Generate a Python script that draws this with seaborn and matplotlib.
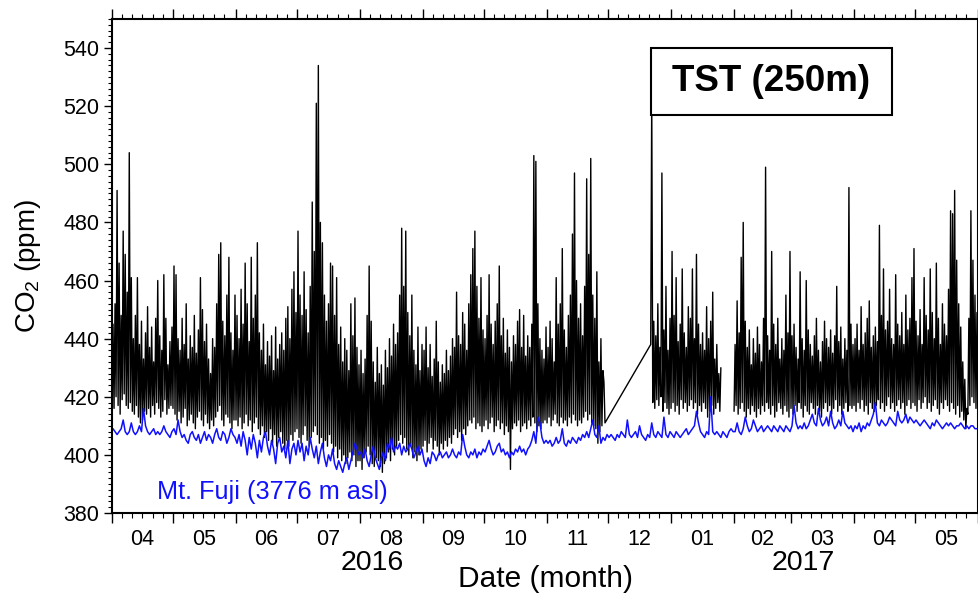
import numpy as np
import pandas as pd
import seaborn as sns
import matplotlib.pyplot as plt
import matplotlib.dates as mdates
from matplotlib.ticker import MultipleLocator, NullFormatter
from matplotlib.patches import Rectangle

# TST (250m) CO2, two readings per day (00h / 12h), ppm
tst_am_2016_04 = [418, 416, 420, 417, 414, 419, 421, 417, 416, 418, 415, 414, 417, 413, 411,
                  412, 415, 414, 416, 413, 417, 414, 418, 416, 413, 415, 419, 414, 416, 417]
tst_pm_2016_04 = [445, 452, 491, 466, 448, 477, 469, 456, 504, 461, 440, 448, 461, 438, 446,
                  433, 442, 451, 437, 444, 432, 447, 460, 441, 436, 462, 447, 431, 439, 444]
tst_am_2016_05 = [416, 414, 412, 415, 411, 413, 416, 410, 412, 414, 411, 409, 413, 415, 412, 410,
                  414, 411, 409, 412, 410, 413, 415, 417, 412, 410, 414, 413, 411, 409, 412]
tst_pm_2016_05 = [465, 462, 440, 436, 447, 438, 452, 433, 441, 437, 448, 435, 443, 461, 450, 439,
                  445, 433, 428, 440, 437, 452, 469, 473, 446, 441, 455, 468, 442, 436, 455]
tst_am_2016_06 = [412, 410, 413, 409, 411, 414, 410, 412, 408, 411, 413, 409, 407, 410, 406,
                  408, 405, 409, 404, 407, 403, 406, 408, 404, 402, 405, 403, 407, 405, 408]
tst_pm_2016_06 = [448, 440, 457, 445, 466, 452, 439, 468, 447, 455, 473, 442, 436, 445, 431,
                  439, 434, 441, 429, 444, 433, 438, 442, 436, 447, 451, 440, 457, 463, 449]
tst_am_2016_07 = [409, 406, 404, 407, 410, 405, 403, 406, 408, 410, 407, 404, 406, 402, 405, 403,
                  407, 404, 401, 403, 399, 402, 398, 400, 397, 399, 401, 398, 400, 396, 398]
tst_pm_2016_07 = [477, 455, 448, 463, 450, 442, 458, 487, 470, 521, 534, 480, 473, 455, 446, 452,
                  466, 465, 448, 461, 438, 444, 432, 440, 436, 429, 452, 441, 454, 437, 431]
tst_am_2016_08 = [398, 395, 399, 401, 403, 400, 397, 396, 399, 398, 396, 394, 397, 399, 401, 398,
                  402, 400, 403, 405, 407, 404, 406, 402, 400, 403, 399, 401, 398, 400, 402]
tst_pm_2016_08 = [436, 428, 433, 448, 465, 446, 432, 425, 437, 428, 431, 424, 436, 430, 440, 434,
                  445, 438, 442, 455, 478, 458, 477, 449, 441, 455, 436, 431, 444, 429, 438]
tst_am_2016_09 = [403, 405, 401, 404, 406, 402, 405, 403, 400, 404, 402, 405, 403, 406, 404,
                  407, 409, 406, 408, 405, 409, 407, 410, 412, 411, 413, 409, 411, 410, 408]
tst_pm_2016_09 = [436, 444, 430, 438, 427, 433, 446, 432, 425, 431, 428, 436, 429, 434, 440,
                  437, 456, 441, 438, 449, 445, 436, 452, 462, 471, 477, 458, 447, 461, 443]
tst_am_2016_10 = [410, 412, 409, 411, 413, 408, 410, 412, 409, 411, 407, 410, 408, 395, 409, 411,
                  410, 412, 408, 410, 411, 409, 412, 410, 413, 411, 408, 410, 409, 411, 412]
tst_pm_2016_10 = [440, 448, 462, 445, 438, 446, 452, 465, 441, 447, 435, 443, 437, 432, 441, 438,
                  446, 450, 437, 448, 434, 441, 437, 445, 503, 501, 452, 440, 436, 433, 444]
# Nov 1-29, then no data until Dec 22
tst_am_2016_11 = [411, 413, 410, 412, 414, 411, 410, 413, 411, 412, 410, 413, 411, 414, 412,
                  410, 412, 411, 413, 415, 412, 414, 411, 410, 409, 404, 408, 410, 425]
tst_pm_2016_11 = [437, 446, 440, 432, 461, 445, 452, 471, 443, 437, 448, 455, 476, 497, 460,
                  447, 452, 441, 458, 495, 469, 502, 455, 447, 463, 432, 440, 429, 411]
# Dec 22-31
tst_am_2016_12 = [438, 418, 416, 419, 417, 420, 415, 418, 416, 414]
tst_pm_2016_12 = [524, 446, 441, 452, 437, 497, 443, 458, 436, 447]
# Jan 1-25, then no data until Feb 1
tst_am_2017_01 = [416, 418, 415, 417, 414, 419, 416, 418, 415, 417, 419, 416, 418, 414, 417,
                  415, 418, 416, 413, 415, 417, 414, 416, 418, 415]
tst_pm_2017_01 = [470, 448, 461, 439, 445, 464, 442, 437, 451, 447, 464, 440, 469, 445, 438,
                  442, 436, 451, 440, 446, 456, 433, 438, 428, 430]
tst_am_2017_02 = [415, 417, 414, 416, 418, 415, 413, 416, 414, 417, 415, 413, 416, 414,
                  417, 415, 418, 416, 414, 417, 413, 415, 418, 416, 414, 417, 415, 413]
tst_pm_2017_02 = [438, 453, 442, 468, 480, 446, 437, 443, 431, 440, 435, 444, 438, 432,
                  447, 499, 441, 436, 470, 445, 438, 447, 433, 440, 436, 455, 442, 470]
tst_am_2017_03 = [416, 414, 417, 415, 418, 416, 413, 417, 415, 414, 418, 416, 414, 417, 415, 413,
                  416, 418, 415, 417, 414, 416, 419, 415, 417, 414, 416, 418, 415, 417, 416]
tst_pm_2017_03 = [441, 445, 437, 433, 463, 440, 436, 460, 443, 438, 434, 441, 447, 436, 432, 439,
                  446, 440, 437, 443, 435, 441, 458, 439, 444, 433, 440, 436, 492, 445, 438]
tst_am_2017_04 = [417, 415, 418, 416, 419, 415, 417, 414, 418, 416, 415, 417, 419, 416, 418,
                  415, 417, 420, 416, 418, 415, 417, 419, 416, 418, 414, 417, 419, 416, 418]
tst_pm_2017_04 = [440, 445, 436, 451, 438, 442, 447, 453, 437, 441, 444, 439, 479, 448, 464,
                  443, 446, 457, 440, 438, 462, 445, 441, 449, 438, 455, 443, 447, 461, 471]
tst_am_2017_05 = [417, 415, 419, 416, 418, 420, 416, 418, 415, 417, 419, 416, 414, 418, 416, 419,
                  417, 415, 418, 416, 414, 417, 413, 415, 412, 409, 414, 417, 420, 418, 416]
tst_pm_2017_05 = [446, 441, 450, 438, 461, 448, 443, 464, 449, 440, 466, 447, 438, 452, 445, 441,
                  457, 484, 483, 491, 467, 452, 444, 432, 426, 416, 447, 484, 467, 455, 449]

# Mt. Fuji daily CO2, ppm
fuji_2016_04 = [409, 408, 407, 408, 409, 412, 408, 407, 408, 411, 408, 407, 408, 410, 408,
                416, 410, 408, 407, 408, 409, 407, 408, 407, 408, 410, 408, 407, 406, 408]
fuji_2016_05 = [409, 407, 412, 408, 406, 407, 405, 404, 407, 408, 406, 405, 407, 404, 406, 408,
                405, 407, 406, 404, 407, 409, 406, 405, 408, 407, 404, 406, 409, 407, 406]
fuji_2016_06 = [404, 407, 403, 408, 405, 400, 406, 402, 407, 404, 399, 405, 401, 406, 408,
                403, 400, 405, 402, 397, 404, 406, 401, 403, 399, 405, 397, 402, 404, 400]
fuji_2016_07 = [405, 401, 404, 398, 403, 400, 406, 402, 399, 403, 397, 401, 404, 399, 396, 400,
                398, 402, 397, 395, 398, 396, 394, 397, 399, 395, 398, 401, 404, 402, 400]
fuji_2016_08 = [401, 399, 402, 398, 396, 400, 403, 399, 397, 395, 399, 401, 398, 404, 402, 406,
                401, 403, 402, 404, 400, 403, 401, 402, 404, 402, 399, 401, 403, 400, 402]
fuji_2016_09 = [398, 396, 399, 397, 401, 400, 398, 400, 401, 399, 400, 401, 399, 400, 402,
                400, 399, 401, 400, 407, 403, 400, 399, 401, 400, 402, 399, 401, 400, 402]
fuji_2016_10 = [401, 403, 405, 402, 400, 401, 403, 404, 401, 402, 400, 401, 399, 401, 400, 402,
                401, 403, 401, 402, 400, 402, 403, 405, 408, 404, 413, 411, 406, 404, 405]
fuji_2016_11 = [404, 405, 403, 404, 406, 404, 405, 409, 404, 403, 405, 404, 406, 405, 404,
                406, 405, 407, 406, 408, 406, 409, 412, 407, 406, 410, 404, 406, 405, 407]
fuji_2016_12 = [406, 407, 406, 405, 407, 406, 408, 407, 406, 412, 407, 406, 407, 408, 406, 410,
                407, 406, 405, 407, 406, 411, 407, 406, 408, 407, 406, 413, 407, 406, 408]
fuji_2017_01 = [407, 406, 408, 407, 406, 407, 408, 409, 407, 408, 409, 410, 415, 411, 408, 407,
                406, 408, 407, 420, 408, 407, 408, 407, 406, 408, 407, 406, 408, 409, 408]
fuji_2017_02 = [408, 411, 408, 407, 409, 413, 410, 408, 409, 412, 410, 408, 409, 410,
                408, 409, 410, 409, 408, 410, 409, 408, 410, 409, 408, 410, 409, 408]
fuji_2017_03 = [410, 417, 411, 409, 410, 409, 411, 409, 410, 412, 414, 411, 410, 416, 412, 410,
                411, 413, 410, 415, 411, 409, 410, 412, 410, 415, 411, 410, 409, 410, 408]
fuji_2017_04 = [410, 409, 411, 408, 410, 409, 411, 410, 412, 414, 418, 411, 410, 412, 411,
                410, 411, 413, 412, 411, 410, 415, 412, 411, 412, 414, 411, 413, 412, 411]
fuji_2017_05 = [412, 411, 410, 411, 412, 411, 410, 409, 411, 410, 412, 411, 410, 409, 410, 411,
                410, 411, 410, 409, 410, 410, 411, 410, 409, 410, 409, 410, 410, 409, 409]

month_labels = ['04', '05', '06', '07', '08', '09', '10', '11', '12',
                '01', '02', '03', '04', '05']


def half_daily(start, am, pm):
    days = pd.date_range(start, periods=len(am), freq='D')
    a = pd.DataFrame({'time': days, 'co2': am})
    b = pd.DataFrame({'time': days + pd.Timedelta(hours=12), 'co2': pm})
    return pd.concat([a, b])


seg1 = pd.concat([
    half_daily('2016-04-01', tst_am_2016_04, tst_pm_2016_04),
    half_daily('2016-05-01', tst_am_2016_05, tst_pm_2016_05),
    half_daily('2016-06-01', tst_am_2016_06, tst_pm_2016_06),
    half_daily('2016-07-01', tst_am_2016_07, tst_pm_2016_07),
    half_daily('2016-08-01', tst_am_2016_08, tst_pm_2016_08),
    half_daily('2016-09-01', tst_am_2016_09, tst_pm_2016_09),
    half_daily('2016-10-01', tst_am_2016_10, tst_pm_2016_10),
    half_daily('2016-11-01', tst_am_2016_11, tst_pm_2016_11),
    half_daily('2016-12-22', tst_am_2016_12, tst_pm_2016_12),
    half_daily('2017-01-01', tst_am_2017_01, tst_pm_2017_01),
]).sort_values('time')
seg2 = pd.concat([
    half_daily('2017-02-01', tst_am_2017_02, tst_pm_2017_02),
    half_daily('2017-03-01', tst_am_2017_03, tst_pm_2017_03),
    half_daily('2017-04-01', tst_am_2017_04, tst_pm_2017_04),
    half_daily('2017-05-01', tst_am_2017_05, tst_pm_2017_05),
]).sort_values('time')

fuji_vals = (fuji_2016_04 + fuji_2016_05 + fuji_2016_06 + fuji_2016_07 + fuji_2016_08
             + fuji_2016_09 + fuji_2016_10 + fuji_2016_11 + fuji_2016_12 + fuji_2017_01
             + fuji_2017_02 + fuji_2017_03 + fuji_2017_04 + fuji_2017_05)
fuji = pd.DataFrame({
    'time': pd.date_range('2016-04-01 12:00', periods=len(fuji_vals), freq='D'),
    'co2': fuji_vals,
})

sns.set_style('ticks')
plt.rcParams['font.family'] = ['Liberation Sans', 'DejaVu Sans']
plt.rcParams['mathtext.fontset'] = 'custom'
plt.rcParams['mathtext.rm'] = 'Liberation Sans'
plt.rcParams['mathtext.it'] = 'Liberation Sans:italic'
plt.rcParams['text.color'] = 'black'
plt.rcParams['axes.labelcolor'] = 'black'
plt.rcParams['xtick.color'] = 'black'
plt.rcParams['ytick.color'] = 'black'

fig = plt.figure(figsize=(9.79, 5.95), dpi=100)
ax = fig.add_axes([0.1144, 0.1378, 0.8846, 0.8303])

sns.lineplot(data=seg1, x='time', y='co2', color='black', lw=1.0, estimator=None, sort=False, ax=ax)
sns.lineplot(data=seg2, x='time', y='co2', color='black', lw=1.0, estimator=None, sort=False, ax=ax)
sns.lineplot(data=fuji, x='time', y='co2', color='#1010ff', lw=1.1, estimator=None, sort=False, ax=ax)

ax.set_xlim(pd.Timestamp('2016-04-01'), pd.Timestamp('2017-06-01'))
ax.set_ylim(380, 550)

ax.xaxis.set_major_locator(mdates.MonthLocator())
ax.xaxis.set_minor_locator(mdates.DayLocator(bymonthday=[6, 11, 16, 21, 26]))
ax.xaxis.set_major_formatter(NullFormatter())
ax.yaxis.set_major_locator(MultipleLocator(20))
ax.yaxis.set_minor_locator(MultipleLocator(2))

ax.tick_params(axis='x', which='both', top=True, bottom=True, direction='out', color='black')
ax.tick_params(axis='y', which='both', left=True, right=True, direction='out', color='black')
ax.tick_params(axis='x', which='major', length=7, width=1)
ax.tick_params(axis='x', which='minor', length=3.6, width=0.8)
ax.tick_params(axis='y', which='major', length=6, width=1, pad=3, labelsize=15.5,
               labelcolor='black')
ax.tick_params(axis='y', which='minor', length=3.2, width=0.8)
for sp in ax.spines.values():
    sp.set_linewidth(1.5)
    sp.set_color('black')

# month labels centred in each month
starts = pd.date_range('2016-04-01', '2017-06-01', freq='MS')
for lab, s0, s1 in zip(month_labels, starts[:-1], starts[1:]):
    mid = s0 + (s1 - s0) / 2
    ax.text(mid, -0.053, lab, transform=ax.get_xaxis_transform(),
            ha='center', va='center', fontsize=15.5)
ax.text(0.300, -0.101, '2016', transform=ax.transAxes, ha='center', va='center', fontsize=20.5)
ax.text(0.798, -0.101, '2017', transform=ax.transAxes, ha='center', va='center', fontsize=20.5)
ax.text(0.5, -0.133, 'Date (month)', transform=ax.transAxes, ha='center', va='center',
        fontsize=21.5)

ax.set_xlabel('')
ax.set_ylabel('CO$_2$ (ppm)', fontsize=20, va='center')
ax.yaxis.set_label_coords(-0.097, 0.5)

ax.text(0.052, 0.028, 'Mt. Fuji (3776 m asl)', transform=ax.transAxes,
        color='#1010ff', fontsize=18.2, ha='left', va='baseline')

ax.add_patch(Rectangle((0.6224, 0.8057), 0.2783, 0.1356, transform=ax.transAxes,
                       facecolor='white', edgecolor='black', lw=1.5, zorder=5))
ax.text(0.7616, 0.8735, 'TST (250m)', transform=ax.transAxes, ha='center', va='center',
        fontsize=26.5, fontweight='bold', zorder=6)

fig.savefig('out.png', dpi=100)
